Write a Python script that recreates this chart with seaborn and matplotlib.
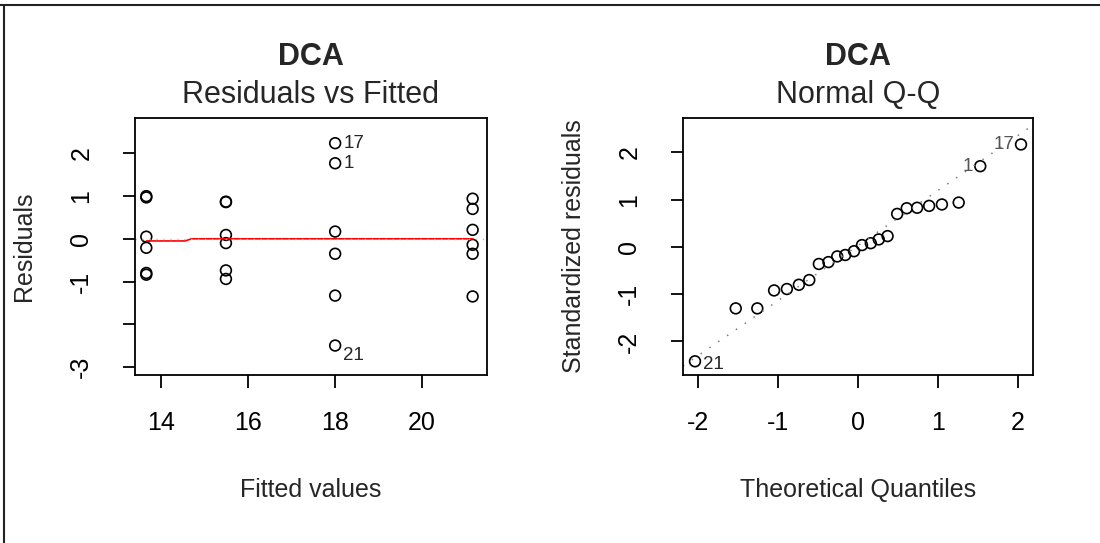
import seaborn as sns
import matplotlib.pyplot as plt
from matplotlib.lines import Line2D

# fitted values / residuals (4 treatment groups, 6 obs each)
fitted = [13.66] * 6 + [15.49] * 6 + [18.0] * 6 + [21.16] * 6
residuals = [1.00, 0.97, 0.05, -0.21, -0.80, -0.84,
             0.87, 0.86, 0.09, -0.10, -0.74, -0.94,
             2.24, 1.77, 0.17, -0.35, -1.33, -2.50,
             0.94, 0.70, 0.21, -0.14, -0.35, -1.35]
resid_ids = {"17": 12, "1": 13, "21": 17}

# lowess smoother (red)
smooth_x = [13.66, 14.55, 14.7, 21.16]
smooth_y = [-0.05, -0.05, 0.0, 0.0]

# normal Q-Q
theo_q = [-2.04, -1.53, -1.26, -1.05, -0.89, -0.74, -0.61, -0.49, -0.37, -0.26, -0.16, -0.05,
          0.05, 0.16, 0.26, 0.37, 0.49, 0.61, 0.74, 0.89, 1.05, 1.26, 1.53, 2.04]
std_resid = [-2.42, -1.30, -1.30, -0.92, -0.89, -0.80, -0.70, -0.36, -0.32, -0.20, -0.17, -0.09,
             0.04, 0.08, 0.16, 0.23, 0.70, 0.82, 0.83, 0.87, 0.90, 0.94, 1.71, 2.17]
qq_ids = {"17": 23, "1": 22, "21": 0}
qq_intercept = 0.03
qq_slope = 1.165

sns.set_style("white")
plt.rcParams['font.family'] = ['Liberation Sans', 'DejaVu Sans']

fig = plt.figure(figsize=(11, 5.43), dpi=100)
ax1 = fig.add_axes([135 / 1100, 1 - 375 / 543, 352 / 1100, 257 / 543])
ax2 = fig.add_axes([683 / 1100, 1 - 375 / 543, 350 / 1100, 257 / 543])

# frame of the original screenshot (top and left only)
fig.add_artist(Line2D([0, 1], [1 - 4.5 / 543] * 2, transform=fig.transFigure, color="#222222", lw=1.5))
fig.add_artist(Line2D([4 / 1100] * 2, [0, 1 - 4.5 / 543], transform=fig.transFigure, color="#222222", lw=1.5))

pt_kw = dict(marker="o", s=60, facecolors="none", edgecolor="black", linewidth=1.2, legend=False)
lab_fs = 13.5

# --- Residuals vs Fitted
sns.scatterplot(x=fitted, y=residuals, ax=ax1, **pt_kw)
sns.lineplot(x=smooth_x, y=smooth_y, ax=ax1, color="red", lw=1.2, estimator=None, sort=False)
ax1.axhline(0, color="#bebebe", lw=1.0, linestyle=(0, (1, 4)))
for lab, i in resid_ids.items():
    dy = -7 if lab == "21" else 0
    ax1.annotate(lab, (fitted[i], residuals[i]), xytext=(6, dy), textcoords="offset points",
                 ha="left", va="center", fontsize=lab_fs)
ax1.set_xlim(13.40, 21.49)
ax1.set_ylim(-3.19, 2.83)
ax1.set_xticks([14, 16, 18, 20])
ax1.set_xticklabels(["14", "16", "18", "20"])
ax1.set_yticks([2, 1, 0, -1, -2, -3])
ax1.set_yticklabels(["2", "1", "0", "-1", "", "-3"], rotation=90, va="center")
ax1.set_xlabel("Fitted values", fontsize=18)
ax1.set_ylabel("Residuals", fontsize=18)
ax1.xaxis.set_label_coords(0.5, -(478 - 375) / 257)
ax1.yaxis.set_label_coords((36 - 135) / 352, 0.5)
ax1.text(0.5, 1 + (118 - 57) / 257, "DCA", transform=ax1.transAxes, ha="center", va="center",
         fontsize=22, fontweight="bold")
ax1.text(0.5, 1 + (118 - 95) / 257, "Residuals vs Fitted", transform=ax1.transAxes,
         ha="center", va="center", fontsize=22)

# --- Normal Q-Q
sns.scatterplot(x=theo_q, y=std_resid, ax=ax2, **pt_kw)
ax2.axline((0, qq_intercept), slope=qq_slope, color="#7f7f7f", lw=1.1, linestyle=(0, (1, 6)))
for lab, i in qq_ids.items():
    if lab == "21":
        ax2.annotate(lab, (theo_q[i], std_resid[i]), xytext=(6, -2), textcoords="offset points",
                     ha="left", va="center", fontsize=lab_fs)
    else:
        ax2.annotate(lab, (theo_q[i], std_resid[i]), xytext=(-5, 0), textcoords="offset points",
                     ha="right", va="center", fontsize=lab_fs, color="#555555")
ax2.set_xlim(-2.19, 2.19)
ax2.set_ylim(-2.71, 2.73)
ax2.set_xticks([-2, -1, 0, 1, 2])
ax2.set_xticklabels(["-2", "-1", "0", "1", "2"])
ax2.set_yticks([2, 1, 0, -1, -2])
ax2.set_yticklabels(["2", "1", "0", "-1", "-2"], rotation=90, va="center")
ax2.set_xlabel("Theoretical Quantiles", fontsize=18)
ax2.set_ylabel("Standardized residuals", fontsize=18)
ax2.xaxis.set_label_coords(0.5, -(478 - 375) / 257)
ax2.yaxis.set_label_coords((586 - 683) / 350, 0.5)
ax2.text(0.5, 1 + (118 - 57) / 257, "DCA", transform=ax2.transAxes, ha="center", va="center",
         fontsize=22, fontweight="bold")
ax2.text(0.5, 1 + (118 - 95) / 257, "Normal Q-Q", transform=ax2.transAxes,
         ha="center", va="center", fontsize=22)

for ax in (ax1, ax2):
    for sp in ax.spines.values():
        sp.set_visible(True)
        sp.set_color("black")
        sp.set_linewidth(1.3)
    ax.tick_params(axis="both", which="both", direction="out", length=9, width=1.3,
                   labelsize=18, colors="black")
    ax.tick_params(axis="x", pad=17, bottom=True, top=False)
    ax.tick_params(axis="y", pad=21, left=True, right=False)

fig.savefig("out.png", dpi=100)
